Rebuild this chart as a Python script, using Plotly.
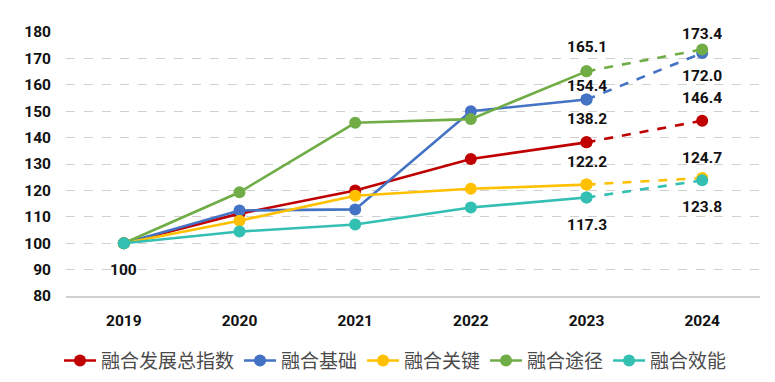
import plotly.graph_objects as go

years = [2019, 2020, 2021, 2022, 2023, 2024]
year_labels = ["2019", "2020", "2021", "2022", "2023", "2024"]
series_names = ["融合发展总指数", "融合基础", "融合关键", "融合途径", "融合效能"]
total_index = [100, 111.2, 120.0, 131.9, 138.2, 146.4]
foundation = [100, 112.4, 112.8, 150.0, 154.4, 172.0]
key = [100, 108.5, 118.0, 120.6, 122.2, 124.7]
pathway = [100, 119.3, 145.6, 147.0, 165.1, 173.4]
efficiency = [100, 104.4, 107.1, 113.5, 117.3, 123.8]
colors = ["#C00000", "#4472C4", "#FFC000", "#70AD47", "#33BFB2"]
y_ticks = [80, 90, 100, 110, 120, 130, 140, 150, 160, 170, 180]

# labelled points: (series index, year index, text, pixel shift)
label_points = [
    (0, 0, "100", -27),
    (3, 4, "165.1", 24), (1, 4, "154.4", 14), (0, 4, "138.2", 23),
    (2, 4, "122.2", 23), (4, 4, "117.3", -27),
    (3, 5, "173.4", 15), (1, 5, "172.0", -23), (0, 5, "146.4", 23),
    (2, 5, "124.7", 20), (4, 5, "123.8", -27),
]

all_series = [total_index, foundation, key, pathway, efficiency]
num_font = dict(family="Roboto", size=15.5, color="#111111", weight="bold")

fig = go.Figure()
for name, vals, col in zip(series_names, all_series, colors):
    fig.add_trace(go.Scatter(
        x=years[:5], y=vals[:5], name=name, mode="lines+markers",
        line=dict(color=col, width=2.6),
        marker=dict(color=col, size=12, symbol="circle"),
        legendgroup=name, hoverinfo="skip"))
for name, vals, col in zip(series_names, all_series, colors):
    fig.add_trace(go.Scatter(
        x=years[4:], y=vals[4:], name=name, mode="lines+markers",
        line=dict(color=col, width=2.6, dash="dash"),
        marker=dict(color=col, size=12, symbol="circle"),
        legendgroup=name, showlegend=False, hoverinfo="skip"))

for si, yi, txt, shift in label_points:
    fig.add_annotation(
        x=years[yi], y=all_series[si][yi], text=txt, showarrow=False,
        yshift=shift, font=num_font)

fig.update_layout(
    width=775, height=382,
    margin=dict(l=58, r=23, t=24, b=94, autoexpand=False),
    plot_bgcolor="white", paper_bgcolor="white",
    showlegend=True,
    legend=dict(orientation="h", x=0.5, xanchor="center", xref="container",
                y=0.077, yanchor="middle", yref="container",
                font=dict(family="Noto Sans CJK SC", size=19, color="#4a4a4a"),
                itemwidth=32, tracegroupgap=0),
    xaxis=dict(range=[2018.5, 2024.5], tickvals=years, ticktext=year_labels,
               showgrid=False, showline=True, linecolor="#D0D0D0", zeroline=False,
               linewidth=1.5, ticks="", ticklabelstandoff=10,
               tickfont=num_font),
    yaxis=dict(range=[80, 180], tickvals=y_ticks, showgrid=True, gridcolor="#D0D0D0",
               griddash="dash", gridwidth=1.2, zeroline=False, showline=False,
               ticks="", ticklabelstandoff=14,
               tickfont=num_font),
)

fig.write_html("out.html")
